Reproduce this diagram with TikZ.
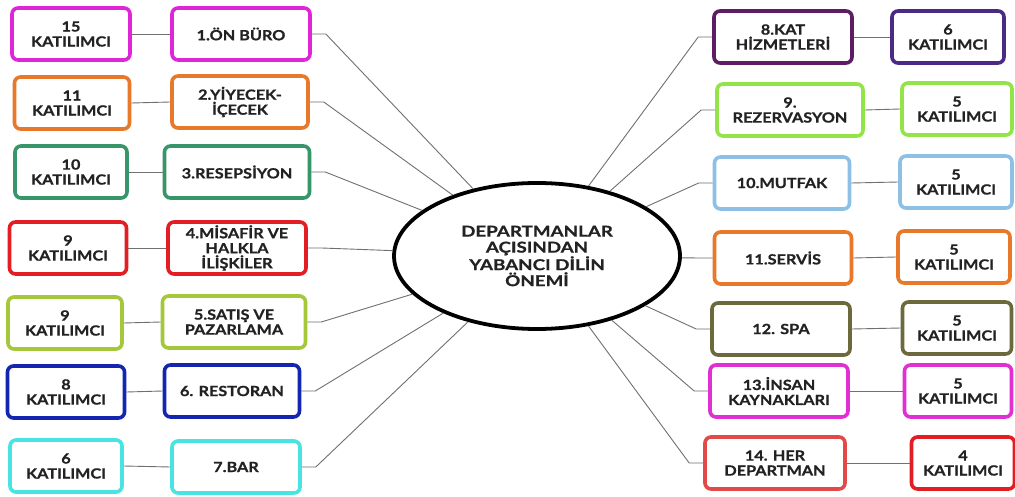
\documentclass[tikz,border=0pt]{standalone}
\usepackage{fontspec}
\setmainfont{Lato}[FakeStretch=1.16, BoldFeatures={FakeBold=0.8}]
\newfontfamily\hubfont{Lato}[FakeStretch=1.25, BoldFeatures={FakeBold=0.8}]
\usetikzlibrary{shapes.geometric}
\definecolor{cMag}{HTML}{E025D8}
\definecolor{cOrange}{HTML}{E8782A}
\definecolor{cTeal}{HTML}{36966A}
\definecolor{cRed}{HTML}{E21E24}
\definecolor{cLime}{HTML}{A4C83A}
\definecolor{cBlue}{HTML}{1426B0}
\definecolor{cCyan}{HTML}{48E4E4}
\definecolor{cPlum}{HTML}{5E1C64}
\definecolor{cIndigo}{HTML}{4A2A84}
\definecolor{cLgreen}{HTML}{92E448}
\definecolor{cSky}{HTML}{8EC0E6}
\definecolor{cOlive}{HTML}{6C6A3C}
\definecolor{cPink}{HTML}{E030D4}
\definecolor{cSalmon}{HTML}{E24A4A}
\definecolor{cLine}{HTML}{707070}
\definecolor{cText}{HTML}{222222}
\begin{document}
\begin{tikzpicture}[x=1pt,y=-1pt,
  box/.style 2 args={draw=#1, line width=3.6pt, rounded corners=6pt, fill=white,
    align=center, inner sep=0pt, minimum height=52pt, minimum width=#2,
    text=cText, font=\fontsize{14}{15}\selectfont\bfseries},
  link/.style={draw=cLine, line width=0.9pt},
  hub/.style={ellipse, draw=black, line width=3.8pt, fill=white, inner sep=0pt,
    minimum width=286pt, minimum height=146pt, align=center, text=cText,
    font=\hubfont\fontsize{15}{16}\selectfont\bfseries}]
\useasboundingbox (0,0) rectangle (1015,497);
\fill[white] (0,0) rectangle (1015,497);

% central topic
\node[hub] (hub) at (537,256) {DEPARTMANLAR\\AÇISINDAN\\YABANCI DİLİN\\ÖNEMİ};

% left branch: departments and participant counts
\node[box={cMag}{118pt}]    (c1) at (71,34)  {15\\KATILIMCI};
\node[box={cMag}{138pt}]    (d1) at (241,34) {1.ÖN BÜRO};
\node[box={cOrange}{115pt}] (c2) at (72,103) {11\\KATILIMCI};
\node[box={cOrange}{136pt}] (d2) at (240,102) {2.YİYECEK-\\İÇECEK};
\node[box={cTeal}{112pt}]   (c3) at (71,172) {10\\KATILIMCI};
\node[box={cTeal}{145pt}]   (d3) at (237,172) {3.RESEPSİYON};
\node[box={cRed}{117pt}]    (c4) at (68,248) {9\\KATILIMCI};
\node[box={cRed}{138pt}]    (d4) at (237,248) {4.MİSAFİR VE\\HALKLA\\İLİŞKİLER};
\node[box={cLime}{114pt}]   (c5) at (65,323) {9\\KATILIMCI};
\node[box={cLime}{143pt}]   (d5) at (234,322) {5.SATIŞ VE\\PAZARLAMA};
\node[box={cBlue}{117pt}]   (c6) at (66,392) {8\\KATILIMCI};
\node[box={cBlue}{135pt}]   (d6) at (232,391) {6. RESTORAN};
\node[box={cCyan}{112pt}]   (c7) at (66,466) {6\\KATILIMCI};
\node[box={cCyan}{128pt}]   (d7) at (236,467) {7.BAR};

% right branch: departments and participant counts
\node[box={cPlum}{138pt}]   (d8)  at (783,37)  {8.KAT\\HİZMETLERİ};
\node[box={cIndigo}{112pt}] (c8)  at (948,37)  {6\\KATILIMCI};
\node[box={cLgreen}{146pt}] (d9)  at (790,110) {9.\\REZERVASYON};
\node[box={cLgreen}{110pt}] (c9)  at (957,109) {5\\KATILIMCI};
\node[box={cSky}{135pt}]    (d10) at (782,183) {10.MUTFAK};
\node[box={cSky}{112pt}]    (c10) at (956,182) {5\\KATILIMCI};
\node[box={cOrange}{137pt}] (d11) at (783,258) {11.SERVİS};
\node[box={cOrange}{112pt}] (c11) at (954,257) {5\\KATILIMCI};
\node[box={cOlive}{138pt}]  (d12) at (781,329) {12. SPA};
\node[box={cOlive}{109pt}]  (c12) at (957,328) {5\\KATILIMCI};
\node[box={cPink}{138pt}]   (d13) at (779,391) {13.İNSAN\\KAYNAKLARI};
\node[box={cPink}{107pt}]   (c13) at (958,391) {5\\KATILIMCI};
\node[box={cSalmon}{140pt}] (d14) at (775,463) {14. HER\\DEPARTMAN};
\node[box={cRed}{103pt}]    (c14) at (963,463) {4\\KATILIMCI};

% connectors
\foreach \i in {1,...,7}{
  \draw[link] (c\i.east) -- (d\i.west);
  \draw[link] (d\i.east) -- ++(14,0) -- (hub);
}
\foreach \i in {8,...,14}{
  \draw[link] (d\i.east) -- (c\i.west);
  \draw[link] (d\i.west) -- ++(-14,0) -- (hub);
}
\end{tikzpicture}
\end{document}
